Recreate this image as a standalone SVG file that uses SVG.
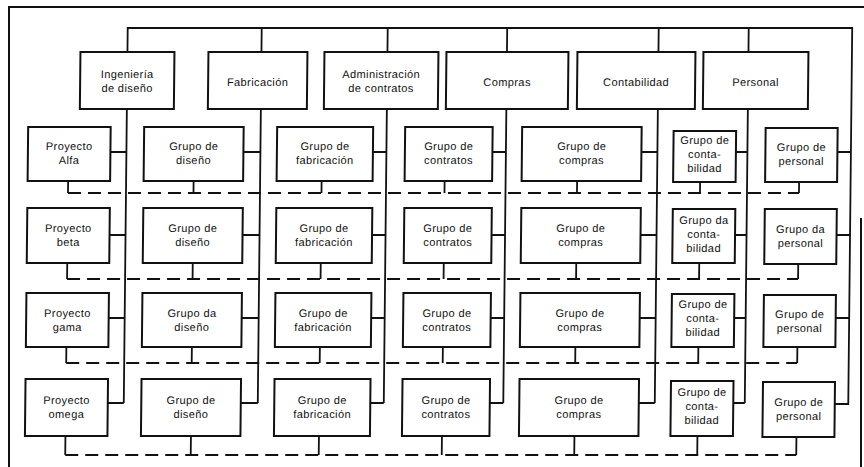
<svg xmlns="http://www.w3.org/2000/svg" width="864" height="467" viewBox="0 0 864 467">
  <style>
    .box { fill: #fff; stroke: #111; stroke-width: 2; }
    .ln { fill: none; stroke: #111; stroke-width: 1.8; }
    .dash { fill: none; stroke: #111; stroke-width: 2; stroke-dasharray: 13 7; }
    .frame { fill: none; stroke: #111; stroke-width: 2; }
    text { font-family: "Liberation Sans", Arial, sans-serif; font-size: 11px; letter-spacing: 0.4px; text-anchor: middle; fill: #111; }
  </style>
  <rect width="864" height="467" fill="#fff"/>

  <!-- outer frame -->
  <path class="frame" d="M9 467 V7 H864 M861 218 V467"/>

  <g transform="skewX(-0.6)">
    <!-- connectors -->
    <g id="connectors">
      <!-- top bus and drops to departments -->
      <path class="ln" d="M128 52 V28 H852.5 V405 M262 28 V52 M388 28 V52 M507.5 28 V52 M659 28 V52 M749 28 V52"/>
      <!-- trunks below departments -->
      <path class="ln" d="M128 109 V403 M262 109 V403 M388 109 V403 M507.5 109 V403 M659 109 V403 M749 109 V403"/>
      <!-- group to trunk links, row by row -->
      <path class="ln" d="M112 152 H128 M245 152 H262 M374.5 152 H388 M494 152 H507.5 M643 152 H659 M737.5 152 H749 M839 152 H852.5"/>
      <path class="ln" d="M112 235 H128 M245 235 H262 M374.5 235 H388 M494 235 H507.5 M643 235 H659 M737.5 235 H749 M839 235 H852.5"/>
      <path class="ln" d="M112 318 H128 M245 318 H262 M374.5 318 H388 M494 318 H507.5 M643 318 H659 M737.5 318 H749 M839 318 H852.5"/>
      <path class="ln" d="M112 403 H128 M245 403 H262 M374.5 403 H388 M494 403 H507.5 M643 403 H659 M737.5 403 H749 M839 404 H852.5"/>
      <!-- project lines (dashed) with drops from each group -->
      <path class="ln" d="M70 181 V193 M195.5 181 V193 M323.5 181 V193 M446.5 181 V193 M579 181 V193 M702 182 V193 M801 182 V193"/>
      <path class="dash" d="M70 193 H801"/>
      <path class="ln" d="M70 263 V279 M195.5 263 V279 M323.5 263 V279 M446.5 263 V279 M579 263 V279 M702 263 V279 M801 264 V279"/>
      <path class="dash" d="M70 279 H801"/>
      <path class="ln" d="M70 347 V363 M195.5 347 V363 M323.5 347 V363 M446.5 347 V363 M579 347 V363 M702 347 V363 M801 347 V363"/>
      <path class="dash" d="M70 363 H801"/>
      <path class="ln" d="M70 436 V455 M195.5 436 V455 M323.5 436 V455 M446.5 436 V455 M579 436 V455 M702 436 V455 M801 437 V455"/>
      <path class="dash" d="M70 455 H801"/>
    </g>

    <!-- departments -->
    <g id="dep-ingenieria"><rect class="box" x="81" y="52" width="94" height="57"/><text x="128" y="78">Ingeniería</text><text x="128" y="92">de diseño</text></g>
    <g id="dep-fabricacion"><rect class="box" x="209" y="52" width="99" height="57"/><text x="258.5" y="86">Fabricación</text></g>
    <g id="dep-contratos"><rect class="box" x="325" y="52" width="114" height="57"/><text x="382" y="78">Administración</text><text x="382" y="92">de contratos</text></g>
    <g id="dep-compras"><rect class="box" x="447" y="52" width="122" height="57"/><text x="508" y="86">Compras</text></g>
    <g id="dep-contabilidad"><rect class="box" x="578" y="52" width="118" height="57"/><text x="637" y="86">Contabilidad</text></g>
    <g id="dep-personal"><rect class="box" x="704" y="52" width="105" height="57"/><text x="756.5" y="86">Personal</text></g>

    <!-- row 1: Proyecto Alfa -->
    <g id="alfa-proyecto"><rect class="box" x="29.5" y="127" width="82.5" height="54"/><text x="70.75" y="150">Proyecto</text><text x="70.75" y="164">Alfa</text></g>
    <g id="alfa-diseno"><rect class="box" x="145.5" y="127" width="99.5" height="54"/><text x="195.25" y="150">Grupo de</text><text x="195.25" y="164">diseño</text></g>
    <g id="alfa-fabricacion"><rect class="box" x="278.5" y="127" width="96" height="54"/><text x="326.5" y="150">Grupo de</text><text x="326.5" y="164">fabricación</text></g>
    <g id="alfa-contratos"><rect class="box" x="406.5" y="127" width="87.5" height="54"/><text x="450.25" y="150">Grupo de</text><text x="450.25" y="164">contratos</text></g>
    <g id="alfa-compras"><rect class="box" x="523.5" y="127" width="119.5" height="54"/><text x="583.25" y="150">Grupo de</text><text x="583.25" y="164">compras</text></g>
    <g id="alfa-contabilidad"><rect class="box" x="675" y="131" width="62.5" height="51"/><text x="706.25" y="144">Grupo de</text><text x="706.25" y="158">conta-</text><text x="706.25" y="172">bilidad</text></g>
    <g id="alfa-personal"><rect class="box" x="767" y="128" width="72" height="54"/><text x="803" y="151">Grupo de</text><text x="803" y="165">personal</text></g>

    <!-- row 2: Proyecto beta -->
    <g id="beta-proyecto"><rect class="box" x="29.5" y="208" width="82.5" height="55"/><text x="70.75" y="232">Proyecto</text><text x="70.75" y="246">beta</text></g>
    <g id="beta-diseno"><rect class="box" x="145.5" y="208" width="99.5" height="55"/><text x="195.25" y="232">Grupo de</text><text x="195.25" y="246">diseño</text></g>
    <g id="beta-fabricacion"><rect class="box" x="278.5" y="208" width="96" height="55"/><text x="326.5" y="232">Grupo de</text><text x="326.5" y="246">fabricación</text></g>
    <g id="beta-contratos"><rect class="box" x="406.5" y="208" width="87.5" height="55"/><text x="450.25" y="232">Grupo de</text><text x="450.25" y="246">contratos</text></g>
    <g id="beta-compras"><rect class="box" x="523.5" y="208" width="119.5" height="55"/><text x="583.25" y="232">Grupo de</text><text x="583.25" y="246">compras</text></g>
    <g id="beta-contabilidad"><rect class="box" x="675" y="209" width="62.5" height="54"/><text x="706.25" y="224">Grupo da</text><text x="706.25" y="238">conta-</text><text x="706.25" y="252">bilidad</text></g>
    <g id="beta-personal"><rect class="box" x="767" y="209" width="72" height="55"/><text x="803" y="233">Grupo da</text><text x="803" y="247">personal</text></g>

    <!-- row 3: Proyecto gama -->
    <g id="gama-proyecto"><rect class="box" x="29.5" y="293" width="82.5" height="54"/><text x="70.75" y="317">Proyecto</text><text x="70.75" y="331">gama</text></g>
    <g id="gama-diseno"><rect class="box" x="145.5" y="293" width="99.5" height="54"/><text x="195.25" y="317">Grupo da</text><text x="195.25" y="331">diseño</text></g>
    <g id="gama-fabricacion"><rect class="box" x="278.5" y="293" width="96" height="54"/><text x="326.5" y="317">Grupo de</text><text x="326.5" y="331">fabricación</text></g>
    <g id="gama-contratos"><rect class="box" x="406.5" y="293" width="87.5" height="54"/><text x="450.25" y="317">Grupo de</text><text x="450.25" y="331">contratos</text></g>
    <g id="gama-compras"><rect class="box" x="523.5" y="293" width="119.5" height="54"/><text x="583.25" y="317">Grupo de</text><text x="583.25" y="331">compras</text></g>
    <g id="gama-contabilidad"><rect class="box" x="675" y="294" width="62.5" height="53"/><text x="706.25" y="308">Grupo de</text><text x="706.25" y="322">conta-</text><text x="706.25" y="336">bilidad</text></g>
    <g id="gama-personal"><rect class="box" x="767" y="295" width="72" height="52"/><text x="803" y="318">Grupo de</text><text x="803" y="332">personal</text></g>

    <!-- row 4: Proyecto omega -->
    <g id="omega-proyecto"><rect class="box" x="29.5" y="379" width="82.5" height="57"/><text x="70.75" y="404">Proyecto</text><text x="70.75" y="418">omega</text></g>
    <g id="omega-diseno"><rect class="box" x="145.5" y="379" width="99.5" height="57"/><text x="195.25" y="404">Grupo de</text><text x="195.25" y="418">diseño</text></g>
    <g id="omega-fabricacion"><rect class="box" x="278.5" y="379" width="96" height="57"/><text x="326.5" y="404">Grupo de</text><text x="326.5" y="418">fabricación</text></g>
    <g id="omega-contratos"><rect class="box" x="406.5" y="379" width="87.5" height="57"/><text x="450.25" y="404">Grupo de</text><text x="450.25" y="418">contratos</text></g>
    <g id="omega-compras"><rect class="box" x="523.5" y="379" width="119.5" height="57"/><text x="583.25" y="404">Grupo de</text><text x="583.25" y="418">compras</text></g>
    <g id="omega-contabilidad"><rect class="box" x="675" y="381" width="62.5" height="55"/><text x="706.25" y="396">Grupo de</text><text x="706.25" y="410">conta-</text><text x="706.25" y="424">bilidad</text></g>
    <g id="omega-personal"><rect class="box" x="767" y="382" width="72" height="55"/><text x="803" y="406">Grupo de</text><text x="803" y="420">personal</text></g>
  </g>
</svg>
